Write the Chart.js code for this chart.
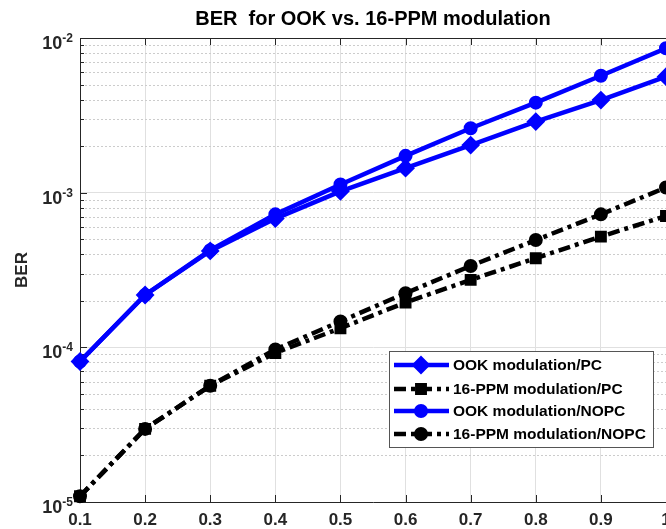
<!DOCTYPE html>
<html>
<head>
<meta charset="utf-8">
<script src="https://cdn.jsdelivr.net/npm/chart.js@4.4.1/dist/chart.umd.min.js"></script>
<style>
  html, body { margin: 0; padding: 0; background: #fff; }
  #wrap { width: 666px; height: 529px; }
</style>
</head>
<body>
<div id="wrap"><canvas id="ber"></canvas></div>
<script>
// Normalised power levels on the x axis
const xValues = [0.1, 0.2, 0.3, 0.4, 0.5, 0.6, 0.7, 0.8, 0.9, 1.0];
const xTickLabels = ["0.1", "0.2", "0.3", "0.4", "0.5", "0.6", "0.7", "0.8", "0.9", "1"];
const yDecades = [-5, -4, -3, -2];

// BER curves
const ookPC     = [8.1e-5, 2.18e-4, 4.2e-4, 6.8e-4, 1.02e-3, 1.44e-3, 2.03e-3, 2.88e-3, 3.97e-3, 5.62e-3];
const ppmPC     = [1.09e-5, 2.97e-5, 5.65e-5, 9.2e-5, 1.33e-4, 1.95e-4, 2.73e-4, 3.77e-4, 5.2e-4, 7.06e-4];
const ookNOPC   = [8.1e-5, 2.18e-4, 4.25e-4, 7.24e-4, 1.13e-3, 1.73e-3, 2.61e-3, 3.82e-3, 5.7e-3, 8.58e-3];
const ppmNOPC   = [1.09e-5, 2.97e-5, 5.65e-5, 9.7e-5, 1.47e-4, 2.24e-4, 3.36e-4, 4.94e-4, 7.24e-4, 1.08e-3];

const seriesLabels = ["OOK modulation/PC", "16-PPM modulation/PC", "OOK modulation/NOPC", "16-PPM modulation/NOPC"];

const BLUE = "#0000ff";
const BLACK = "#000000";
const DASHDOT = [12, 5, 4, 5];
const FONT = "'Liberation Sans', Arial, Helvetica, sans-serif";

function toPoints(ys) {
  return xValues.map((x, i) => ({ x: x, y: ys[i] }));
}

function series(label, ys, color, style, dash, radius) {
  return {
    label: label,
    data: toPoints(ys),
    borderColor: color,
    backgroundColor: color,
    borderWidth: 4.5,
    borderDash: dash,
    pointStyle: style,
    pointRadius: radius,
    pointBorderWidth: 2,
    pointBorderColor: color,
    pointBackgroundColor: color,
    clip: false,
    tension: 0
  };
}

const datasets = [
  series(seriesLabels[0], ookPC, BLUE, "rectRot", [], 8),
  series(seriesLabels[1], ppmPC, BLACK, "rect", DASHDOT, 7),
  series(seriesLabels[2], ookNOPC, BLUE, "circle", [], 6),
  series(seriesLabels[3], ppmNOPC, BLACK, "circle", DASHDOT, 6)
];

// small marker painter for the legend samples
function marker(ctx, style, x, y, r, color, bw) {
  ctx.save();
  ctx.setLineDash([]);
  ctx.strokeStyle = color;
  ctx.fillStyle = color;
  ctx.lineWidth = bw;
  ctx.beginPath();
  if (style === "circle") {
    ctx.arc(x, y, r, 0, Math.PI * 2);
  } else if (style === "rectRot") {
    ctx.moveTo(x, y - r); ctx.lineTo(x + r, y); ctx.lineTo(x, y + r); ctx.lineTo(x - r, y); ctx.closePath();
  } else {
    const s = r * Math.SQRT1_2;
    ctx.rect(x - s, y - s, 2 * s, 2 * s);
  }
  ctx.fill();
  ctx.stroke();
  ctx.restore();
}

// MATLAB-like axes: dotted minor grid, inward ticks, superscript labels, boxed legend
const matlabAxes = {
  id: "matlabAxes",
  beforeDatasetsDraw(chart) {
    const ctx = chart.ctx;
    const { left, right, top, bottom } = chart.chartArea;
    const xs = chart.scales.x, ys = chart.scales.y;
    ctx.save();
    // minor grid
    ctx.strokeStyle = "#cccccc";
    ctx.lineWidth = 1;
    ctx.setLineDash([2, 2]);
    for (let d = yDecades[0]; d < yDecades[yDecades.length - 1]; d++) {
      for (let m = 2; m <= 9; m++) {
        const py = Math.round(ys.getPixelForValue(m * Math.pow(10, d))) + 0.5;
        ctx.beginPath(); ctx.moveTo(left + 1, py); ctx.lineTo(right, py); ctx.stroke();
      }
    }
    ctx.setLineDash([]);
    // top border
    ctx.strokeStyle = "#262626";
    ctx.beginPath(); ctx.moveTo(left, top + 0.5); ctx.lineTo(right, top + 0.5); ctx.stroke();
    // y ticks (inward)
    for (let d = yDecades[0]; d <= yDecades[yDecades.length - 1]; d++) {
      for (let m = 1; m <= 9; m++) {
        if (d === yDecades[yDecades.length - 1] && m > 1) break;
        const py = Math.round(ys.getPixelForValue(m * Math.pow(10, d))) + 0.5;
        const len = m === 1 ? 7 : 4;
        ctx.beginPath(); ctx.moveTo(left, py); ctx.lineTo(left + len, py); ctx.stroke();
      }
    }
    // x ticks (inward, top and bottom)
    xValues.forEach(v => {
      const px = Math.round(xs.getPixelForValue(v)) + 0.5;
      ctx.beginPath(); ctx.moveTo(px, bottom); ctx.lineTo(px, bottom - 7); ctx.stroke();
      ctx.beginPath(); ctx.moveTo(px, top); ctx.lineTo(px, top + 7); ctx.stroke();
    });
    ctx.restore();
  },
  afterDraw(chart) {
    const ctx = chart.ctx;
    const { left, top, bottom } = chart.chartArea;
    const xs = chart.scales.x, ys = chart.scales.y;
    ctx.save();
    ctx.fillStyle = "#262626";
    // x tick labels
    ctx.font = "bold 17px " + FONT;
    ctx.textAlign = "center";
    ctx.textBaseline = "alphabetic";
    xValues.forEach((v, i) => {
      ctx.fillText(xTickLabels[i], xs.getPixelForValue(v), bottom + 23);
    });
    // y tick labels 10^n
    yDecades.forEach(d => {
      const py = ys.getPixelForValue(Math.pow(10, d));
      const exp = String(d);
      ctx.font = "bold 12px " + FONT;
      const ew = ctx.measureText(exp).width;
      ctx.textAlign = "left";
      const ex = left - 7 - ew;
      ctx.fillText(exp, ex, py + 4);
      ctx.font = "bold 18px " + FONT;
      ctx.textAlign = "right";
      ctx.fillText("10", ex, py + 11);
    });
    // y axis title
    ctx.save();
    ctx.translate(22, (top + bottom) / 2);
    ctx.rotate(-Math.PI / 2);
    ctx.textAlign = "center";
    ctx.textBaseline = "middle";
    ctx.font = "bold 17px " + FONT;
    ctx.fillText("BER", 0, 0);
    ctx.restore();

    // legend
    const bx = 389, by = 351, bw = 264, bh = 96;
    ctx.fillStyle = "#fff";
    ctx.fillRect(bx, by, bw, bh);
    ctx.strokeStyle = "#555";
    ctx.lineWidth = 1;
    ctx.strokeRect(bx + 0.5, by + 0.5, bw, bh);
    const rowY = [365, 389, 411, 434];
    chart.data.datasets.forEach((ds, i) => {
      const y = rowY[i];
      ctx.save();
      ctx.strokeStyle = ds.borderColor;
      ctx.lineWidth = ds.borderWidth;
      ctx.setLineDash(ds.borderDash);
      ctx.beginPath(); ctx.moveTo(394, y); ctx.lineTo(449, y); ctx.stroke();
      ctx.restore();
      marker(ctx, ds.pointStyle, 421, y, ds.pointRadius, ds.borderColor, ds.pointBorderWidth);
      ctx.fillStyle = "#000";
      ctx.font = "bold 15.5px " + FONT;
      ctx.textAlign = "left";
      ctx.textBaseline = "middle";
      ctx.fillText(ds.label, 453, y + 1);
    });
    ctx.restore();
  }
};

new Chart(document.getElementById("ber"), {
  type: "line",
  data: { datasets: datasets },
  options: {
    responsive: true,
    maintainAspectRatio: false,
    animation: false,
    layout: { autoPadding: false, padding: { left: 80, right: 0, top: 0, bottom: 27 } },
    plugins: {
      legend: { display: false },
      tooltip: { enabled: false },
      title: {
        display: true,
        fullSize: false,
        text: "BER  for OOK vs. 16-PPM modulation",
        color: "#000",
        font: { family: FONT, size: 20, weight: "bold" },
        padding: { top: 7, bottom: 7 }
      }
    },
    scales: {
      x: {
        type: "linear",
        min: 0.1,
        max: 1,
        ticks: { display: false, stepSize: 0.1 },
        grid: { color: "#e0e0e0", drawTicks: false },
        border: { color: "#262626", width: 1 }
      },
      y: {
        type: "logarithmic",
        min: 1e-5,
        max: 1e-2,
        ticks: { display: false },
        grid: {
          drawTicks: false,
          color: c => {
            const l = Math.log10(c.tick.value);
            return Math.abs(l - Math.round(l)) < 1e-6 ? "#e0e0e0" : "rgba(0,0,0,0)";
          }
        },
        border: { color: "#262626", width: 1 }
      }
    }
  },
  plugins: [matlabAxes]
});
</script>
</body>
</html>
